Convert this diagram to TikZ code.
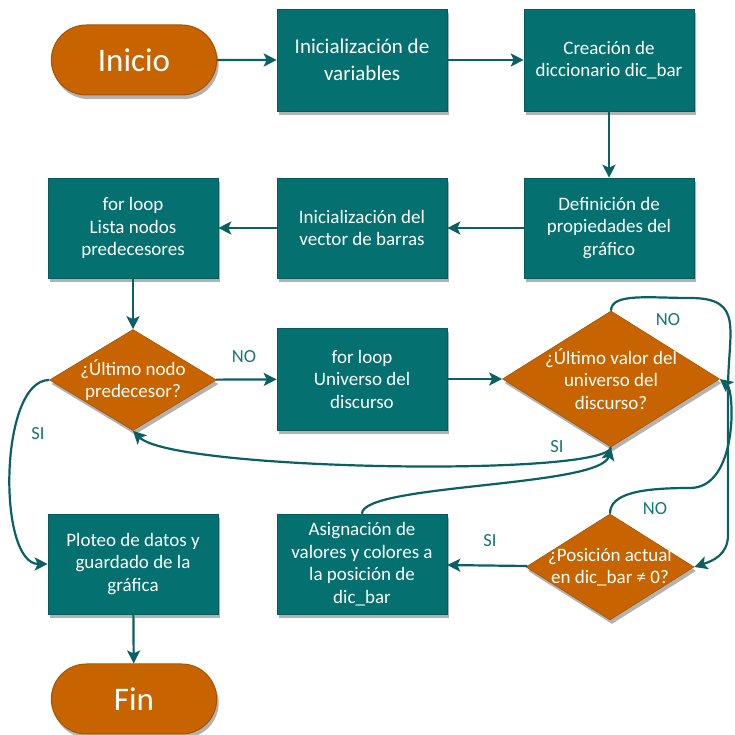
\documentclass[tikz,border=0pt]{standalone}
\usepackage{fontspec}
\setmainfont{Carlito}
\usetikzlibrary{shapes.geometric,shapes.misc,shadows,arrows.meta}

\definecolor{boxteal}{HTML}{047170}
\definecolor{boxedge}{HTML}{035D5C}
\definecolor{decorange}{HTML}{C86400}
\definecolor{decedge}{HTML}{A85300}
\definecolor{flowline}{HTML}{0A6062}
\definecolor{labelteal}{HTML}{167676}

\tikzset{
  softshadow/.style={drop shadow={shadow xshift=2pt, shadow yshift=-4pt, opacity=.3, fill=black}},
  process/.style={rectangle, fill=boxteal, draw=boxedge, line width=.6pt, text=white,
    align=center, inner sep=2pt, softshadow,
    font=\fontsize{19}{22.5}\selectfont},
  terminal/.style={rounded rectangle, fill=decorange, draw=decedge, line width=1pt,
    text=white, minimum width=172pt, minimum height=70pt, softshadow,
    font=\fontsize{33}{38}\selectfont},
  decision/.style={diamond, fill=decorange, draw=decedge, line width=.6pt, softshadow,
    inner sep=0pt},
  dtext/.style={text=white, align=center, font=\fontsize{19}{22.5}\selectfont},
  flow/.style={draw=flowline, line width=2.2pt,
    -{Stealth[length=13pt,width=13pt,inset=3pt]}},
  branch/.style={text=labelteal, font=\fontsize{18.5}{21}\selectfont},
}

\begin{document}
\begin{tikzpicture}[x=1pt,y=1pt]
  \fill[white] (0,0) rectangle (734,735);
  \useasboundingbox (0,0) rectangle (734,735);

  % top row
  \node[terminal] (inicio) at (134,675) {Inicio};
  \node[process, minimum width=170pt, minimum height=102pt,
        font=\fontsize{21}{26.5}\selectfont] (vars) at (362,675)
        {Inicialización de\\variables};
  \node[process, minimum width=170pt, minimum height=102pt] (dict) at (609,675)
        {Creación de\\diccionario dic\_bar};

  % second row
  \node[process, minimum width=170pt, minimum height=100pt] (props) at (609,507)
        {Definición de\\propiedades del\\gráfico};
  \node[process, minimum width=170pt, minimum height=100pt] (vector) at (362,507)
        {Inicialización del\\vector de barras};
  \node[process, minimum width=170pt, minimum height=100pt] (loopnodes) at (133,507)
        {for loop\\Lista nodos\\predecesores};

  % third row
  \node[decision, minimum width=167pt, minimum height=101pt,
        label={[dtext]center:{¿Último nodo\\predecesor?}}] (lastnode) at (133,355) {};
  \node[process, minimum width=170pt, minimum height=102pt] (loopuniv) at (362,356)
        {for loop\\Universo del\\discurso};
  \node[decision, minimum width=217pt, minimum height=136pt,
        label={[dtext]center:{¿Último valor del\\universo del\\discurso?}}] (lastval) at (611,356) {};

  % fourth row
  \node[decision, minimum width=168pt, minimum height=106pt,
        label={[dtext]center:{¿Posición actual\\en dic\_bar ≠ 0?}}] (pos) at (610,168) {};
  \node[process, minimum width=170pt, minimum height=100pt] (assign) at (362,171)
        {Asignación de\\valores y colores a\\la posición de\\dic\_bar};
  \node[process, minimum width=170pt, minimum height=100pt] (plot) at (133,171)
        {Ploteo de datos y\\guardado de la\\gráfica};

  % end
  \node[terminal] (fin) at (134,36) {Fin};

  % helper points for the loops on the right
  \coordinate (topbend) at (690,437);
  \coordinate (rightrail) at (728,345);
  \coordinate (railend) at (728,200);
  \coordinate (lowbend) at (690,247);

  % straight connectors
  \draw[flow] (inicio) -- (vars);
  \draw[flow] (vars) -- (dict);
  \draw[flow] (dict) -- (props);
  \draw[flow] (props) -- (vector);
  \draw[flow] (vector) -- (loopnodes);
  \draw[flow] (loopnodes) -- (lastnode);
  \draw[flow] (lastnode) -- (loopuniv);
  \draw[flow] (loopuniv) -- (lastval);
  \draw[flow] (pos) -- (assign);
  \draw[flow] (plot) -- (fin);

  % curved connectors
  \draw[flow] (lastnode.west) to[out=180,in=180,looseness=0.7] (plot.west);
  \draw[flow] (lastval.south) .. controls +(-5,-30) and +(40,-40) .. (lastnode.south);
  \draw[flow] (assign.north) .. controls +(0,30) and +(-10,-40) .. (lastval.south);
  \draw[flow] (lastval.north) .. controls +(0,18) and +(-40,0) .. (topbend)
        .. controls +(55,0) and +(0,60) .. (rightrail) -- (railend)
        .. controls +(0,-20) and +(18,6) .. (pos.east);
  \draw[flow] (pos.north) .. controls +(0,20) and +(-50,0) .. (lowbend)
        .. controls +(48,0) and +(15,-12) .. (lastval.east);

  % branch labels
  \node[branch] (no1) at (244,378) {NO};
  \node[branch] (si1) at (38,301) {SI};
  \node[branch] (no2) at (668,415) {NO};
  \node[branch] (si2) at (557,288) {SI};
  \node[branch] (no3) at (655,226) {NO};
  \node[branch] (si3) at (490,194) {SI};
\end{tikzpicture}
\end{document}
